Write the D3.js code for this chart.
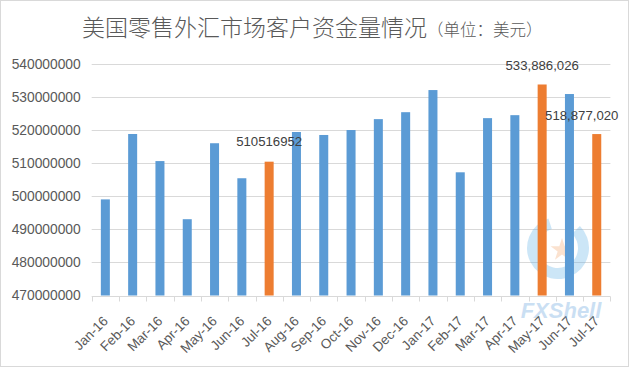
<!DOCTYPE html>
<html><head><meta charset="utf-8">
<script src="https://cdn.jsdelivr.net/npm/d3@7"></script>
<style>html,body{margin:0;padding:0;background:#fff;}svg{display:block;}</style>
</head><body>
<svg id="c" width="629" height="367"></svg>
<script>
const months = ["Jan-16","Feb-16","Mar-16","Apr-16","May-16","Jun-16","Jul-16","Aug-16","Sep-16","Oct-16","Nov-16","Dec-16","Jan-17","Feb-17","Mar-17","Apr-17","May-17","Jun-17","Jul-17"];
const values = [499100000,518900000,510700000,493100000,516100000,505500000,510516952,519500000,518600000,520100000,523400000,525500000,532200000,507300000,523700000,524600000,533886026,531000000,518877020];
const highlighted = ["Jul-16","May-17","Jul-17"];
const labelTexts = {"Jul-16":"510516952","May-17":"533,886,026","Jul-17":"518,877,020"};
const yTicks = [470000000,480000000,490000000,500000000,510000000,520000000,530000000,540000000];
const title = "美国零售外汇市场客户资金量情况";
const subtitle = "（单位：美元）";

const svg = d3.select("#c");
const font = "'Liberation Sans', Arial, sans-serif";
svg.append("rect").attr("x",0.5).attr("y",0.5).attr("width",628).attr("height",366)
  .attr("fill","#fff").attr("stroke","#d9d9d9");

const m = {l:91.7, r:610.4, t:64.3, b:295.5};
const x = d3.scaleBand().domain(months).range([m.l, m.r]).paddingInner(0.67).paddingOuter(0.335);
const xb = d3.scaleBand().domain(months).range([m.l, m.r]);
const y = d3.scaleLinear().domain([470000000,540000000]).range([m.b, m.t]);

// gridlines
svg.append("g").selectAll("line").data(yTicks.slice(1)).join("line")
  .attr("x1",m.l).attr("x2",m.r).attr("y1",d=>Math.round(y(d))+0.5).attr("y2",d=>Math.round(y(d))+0.5)
  .attr("stroke","#d9d9d9").attr("stroke-width",1);

// y labels
const ya = d3.axisLeft(y).tickValues(yTicks).tickFormat(d3.format("d")).tickSize(0).tickPadding(11);
const gy = svg.append("g").attr("transform",`translate(${m.l},0)`).call(ya);
gy.select(".domain").remove();
gy.selectAll("text").attr("font-family",font).attr("font-size","13.8px").attr("fill","#595959");

// watermark (behind bars partially)
const wm = svg.append("g").attr("opacity",0.3);
wm.append("path").attr("d",d3.arc()({innerRadius:20,outerRadius:31,startAngle:Math.PI*0.25,endAngle:Math.PI*1.9}))
  .attr("transform","translate(558,248)").attr("fill","#5aaee8");
wm.append("path").attr("d",d3.symbol(d3.symbolStar,160)())
  .attr("transform","translate(562,250)").attr("fill","#f2a064");

// bars
svg.append("g").selectAll("rect").data(months).join("rect")
  .attr("x",(d)=>x(d)).attr("width",x.bandwidth())
  .attr("y",(d,i)=>y(values[i])).attr("height",(d,i)=>m.b - y(values[i]))
  .attr("fill",d=>highlighted.includes(d) ? "#ed7d31" : "#5b9bd5");

// x axis
const gx = svg.append("g").attr("transform",`translate(0,${Math.round(m.b)+0.5})`);
gx.append("line").attr("x1",m.l).attr("x2",m.r).attr("stroke","#d9d9d9");
gx.selectAll("line.tk").data(d3.range(months.length+1)).join("line").attr("class","tk")
  .attr("x1",i=>Math.round(m.l + i*xb.step())+0.5).attr("x2",i=>Math.round(m.l + i*xb.step())+0.5)
  .attr("y1",0).attr("y2",5).attr("stroke","#d9d9d9");
gx.selectAll("text").data(months).join("text")
  .attr("transform",d=>`translate(${xb(d)+xb.bandwidth()/2},${22}) rotate(-45)`)
  .attr("text-anchor","end").attr("dy","0.35em")
  .attr("font-family",font).attr("font-size","13.5px").attr("fill","#595959").text(d=>d);

// data labels
const lab = [
  {k:"Jul-16", dx:0, dy:-19},
  {k:"May-17", dx:0, dy:-18},
  {k:"Jul-17", dx:-15, dy:-17.5}
];
svg.append("g").selectAll("text").data(lab).join("text")
  .attr("x",d=>x(d.k)+x.bandwidth()/2+d.dx).attr("y",d=>y(values[months.indexOf(d.k)])+d.dy)
  .attr("text-anchor","middle").attr("dominant-baseline","middle")
  .attr("font-family",font).attr("font-size","13.2px").attr("fill","#404040")
  .text(d=>labelTexts[d.k]);

// watermark text
svg.append("text").attr("x",561).attr("y",318).attr("text-anchor","middle").attr("font-family",font)
  .attr("opacity",0.35).attr("font-weight","bold").attr("font-style","italic").attr("font-size","22px").attr("fill","#6aa6dd").text("FXShell");

// title
const t = svg.append("text").attr("x",82).attr("y",36).attr("font-family","'Noto Sans CJK SC', sans-serif").attr("font-weight",300).attr("fill","#595959");
t.append("tspan").attr("font-size","23px").text(title);
t.append("tspan").attr("font-size","16.5px").text(subtitle);
</script>
</body></html>
